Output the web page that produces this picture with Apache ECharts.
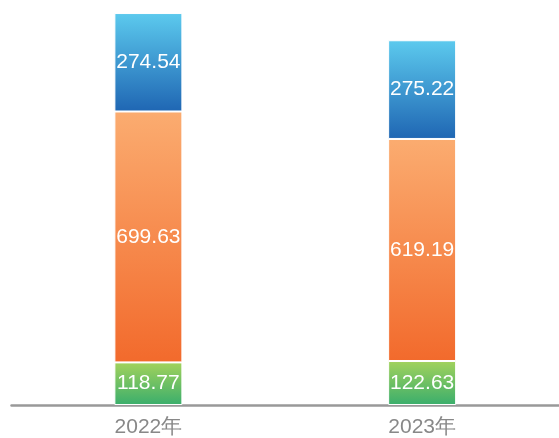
<!DOCTYPE html>
<html>
<head>
<meta charset="utf-8">
<script src="https://cdn.jsdelivr.net/npm/echarts@6/dist/echarts.min.js"></script>
<style>
    html, body { margin: 0; padding: 0; background: #fff; }
    #chart { width: 559px; height: 438px; }
</style>
</head>
<body>
<div id="chart"></div>
<script>
const years = ['2022年', '2023年']
const bottomValues = [118.77, 122.63]
const middleValues = [699.63, 619.19]
const topValues = [274.54, 275.22]

const grad = (c1, c2) => new echarts.graphic.LinearGradient(0, 0, 0, 1, [
    { offset: 0, color: c1 },
    { offset: 1, color: c2 }
])

const label = {
    show: true,
    position: 'inside',
    color: '#fff',
    fontSize: 21,
    fontFamily: 'Liberation Sans'
}

const makeSeries = (data, c1, c2) => ({
    type: 'bar',
    stack: 'total',
    barWidth: 68,
    data: data,
    label: label,
    itemStyle: {
        color: grad(c1, c2),
        borderColor: '#fff',
        borderWidth: 1
    }
})

const chart = echarts.init(document.getElementById('chart'))
chart.setOption({
    animation: false,
    grid: { left: 11.5, right: -2.5, top: 10.5, bottom: 32.5 },
    xAxis: {
        type: 'category',
        data: years,
        axisLine: { lineStyle: { color: '#999', width: 2.5 } },
        axisTick: { show: false },
        axisLabel: { color: '#888', fontSize: 21, margin: 12, fontFamily: 'Liberation Sans' }
    },
    yAxis: {
        type: 'value',
        min: 0,
        max: 1100,
        show: false,
        splitLine: { show: false }
    },
    series: [
        makeSeries(bottomValues, '#a2d25c', '#3aae6c'),
        makeSeries(middleValues, '#fbac70', '#f26a2c'),
        makeSeries(topValues, '#5ccaee', '#1f66b3')
    ]
})
</script>
</body>
</html>
